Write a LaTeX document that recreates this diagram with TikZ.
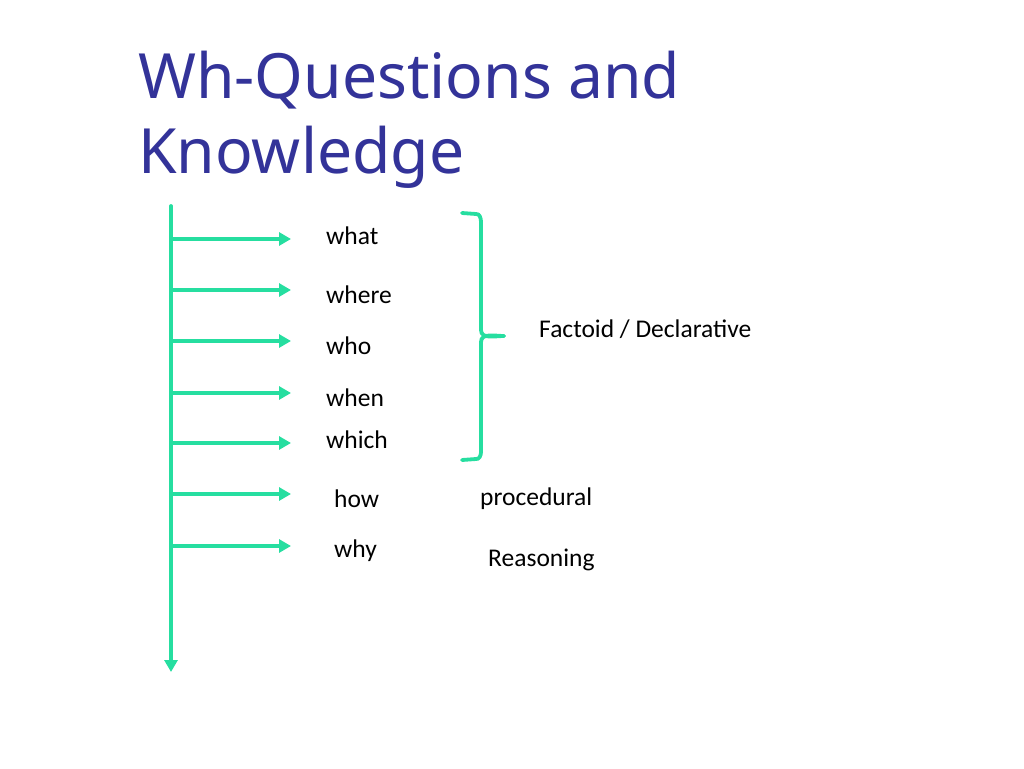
\documentclass[tikz,border=0pt]{standalone}
\usepackage{fontspec}
\setmainfont{Carlito}
\newfontfamily\titlefont{Noto Sans}
\definecolor{wharrow}{RGB}{38, 222, 160}
\definecolor{titleblue}{RGB}{51, 51, 153}
\usetikzlibrary{arrows.meta, positioning}
\tikzset{
    every node/.style={inner sep=0pt, anchor=west},
    spine/.style={line width=3.8pt, wharrow, line cap=round},
    whtip/.style={-{Triangle[length=12pt, width=13pt]}},
    whlabel/.style={font=\fontsize{25.5}{30}\selectfont},
    brace/.style={line width=3.8pt, wharrow, line cap=round, line join=round},
}

\begin{document}
\begin{tikzpicture}[x=1pt, y=-1pt]
            \useasboundingbox (0, 0) rectangle (1024, 768);
            % title
            \node[text=titleblue, font=\titlefont\fontsize{62.4}{75}\selectfont,
                align=left, anchor=north west] (title) at (138, 51)
                {Wh-Questions and\\Knowledge};
            % question words
            \node[whlabel] (what) at (326, 236) {what};
            \node[whlabel] (where) at (326, 295) {where};
            \node[whlabel] (who) at (326, 346) {who};
            \node[whlabel] (when) at (326, 398) {when};
            \node[whlabel] (which) at (326, 440) {which};
            \node[whlabel] (how) at (334, 499) {how};
            \node[whlabel] (why) at (334, 551) {why};
            % kinds of knowledge
            \node[whlabel] (factoid) at (539, 329) {Factoid / Declarative};
            \node[whlabel] (procedural) at (480, 499) {procedural};
            \node[whlabel] (reasoning) at (488, 560) {Reasoning};
            % spine
            \coordinate (top) at (171, 206);
            \coordinate (bottom) at (171, 672);
            \draw[spine, whtip] (top) -- (bottom);
            \foreach \y/\n in {239/a, 290/b, 341/c, 393/d, 443/e, 494/f, 546/g} {
                \coordinate (s\n) at (171, \y);
                \coordinate (t\n) at (291, \y);
                \draw[spine, whtip] (s\n) -- (t\n);
            }
            % brace
            \coordinate (btop) at (462, 213);
            \coordinate (bmid) at (504, 336);
            \coordinate (bbot) at (462, 460);
            \draw[brace] (btop) -- (476, 214) to[out=10, in=90] (481, 222)
                -- (481, 330) to[out=-90, in=180] (bmid);
            \draw[brace] (bmid) to[out=180, in=90] (481, 342)
                -- (481, 452) to[out=-90, in=-10] (476, 459) -- (bbot);
        \end{tikzpicture}
\end{document}
